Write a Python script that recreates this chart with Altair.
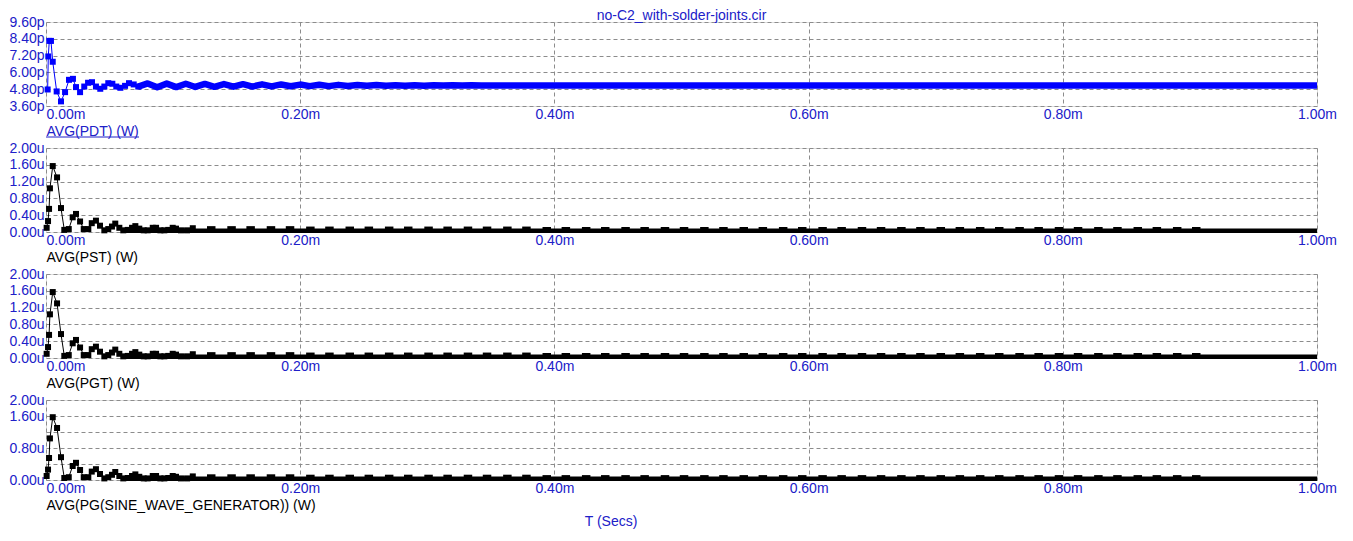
import altair as alt
import pandas as pd

TEXT_BLUE = "#2020c8"
SERIES_BLUE = "#0000ff"
BLACK = "#000000"
GRID = "#8c8c8c"
FONT = "Liberation Sans"

# time axis (microseconds), shown as ms
x_ticks = [0, 200, 400, 600, 800, 1000]

# ---- Panel 1: AVG(PDT) (W), values in pW ----
pdt_t = [1.3, 1.8, 2.6, 3.9, 5.3, 8.4, 11.8, 15.0, 18.1, 21.2, 23.6, 26.8, 30.1,
         33.1, 36.2, 39.3, 42.7, 45.9, 49.0, 52.2, 55.3, 58.5, 62.2, 65.3, 69.0, 72.6]
pdt_v = [4.78, 7.14, 8.25, 8.25, 6.76, 4.64, 3.93, 4.59, 5.47, 5.54, 4.95, 4.59, 4.99,
         5.26, 5.30, 4.99, 4.83, 4.99, 5.23, 5.19, 4.99, 4.90, 5.04, 5.23, 5.14, 4.99]
pdt_tail_t = [72.6, 80, 87.5, 95, 102.5, 110, 117.5, 125, 132.5, 140, 147.5, 155, 162.5,
              170, 177.5, 185, 192.5, 200, 207.5, 215, 222.5, 230, 237.5, 245, 252.5,
              260, 267.5, 275, 282.5, 290, 297.5, 305, 312.5, 320, 327.5, 335, 342.5,
              360, 1000]
pdt_tail_v = [4.99, 5.21, 4.94, 5.20, 4.95, 5.19, 4.96, 5.18, 4.97, 5.17, 4.98, 5.16, 4.99,
              5.15, 5.00, 5.14, 5.01, 5.13, 5.02, 5.12, 5.02, 5.11, 5.03, 5.10, 5.04,
              5.10, 5.04, 5.09, 5.05, 5.09, 5.05, 5.08, 5.06, 5.08, 5.06, 5.08, 5.07,
              5.07, 5.07]
pdt_ticks = [3.6, 4.8, 6.0, 7.2, 8.4, 9.6]

# ---- Panels 2-4: AVG(PST), AVG(PGT), AVG(PG(...)) (W), values in uW ----
pst_t = [0.5, 1.6, 2.4, 3.1, 5.3, 8.7, 11.8, 14.4, 17.9, 21.0, 23.6, 26.8, 29.7,
         33.3, 36.0, 39.3, 42.5, 45.9, 49.0, 51.9, 54.5, 57.7, 60.8, 64.3, 67.7,
         70.3, 73.4, 76.9, 80.0, 84.0, 86.6, 90.0, 93.1, 96.2, 99.7, 102.3, 106.2,
         111.0, 115.5]
pst_v = [0.10, 0.26, 0.55, 1.04, 1.57, 1.30, 0.57, 0.05, 0.07, 0.35, 0.43, 0.25, 0.07,
         0.07, 0.21, 0.27, 0.15, 0.04, 0.07, 0.13, 0.20, 0.10, 0.04, 0.05, 0.10,
         0.14, 0.08, 0.04, 0.04, 0.10, 0.10, 0.04, 0.04, 0.05, 0.10, 0.08, 0.04,
         0.04, 0.09]
pst_tail_t = [60, 1000]
pst_tail_v = [0.03, 0.03]
pst_peak_t = [130, 146, 161, 177, 192, 208, 223, 239, 254, 270, 285, 301, 316, 332,
              347, 363, 378, 394, 409, 425, 440, 456, 471, 487, 502, 518, 533, 549,
              564, 580, 595, 611, 626, 642, 657, 673, 688, 704, 719, 735, 750, 766,
              781, 797, 812, 828, 843, 859, 874, 890, 905]
pst_peak_v = [0.08, 0.08, 0.08, 0.08, 0.08, 0.07, 0.07, 0.07, 0.07, 0.07,
              0.07, 0.07, 0.07, 0.07, 0.07, 0.07, 0.07, 0.06, 0.06, 0.06,
              0.06, 0.06, 0.06, 0.06, 0.06, 0.06, 0.06, 0.06, 0.06, 0.06,
              0.06, 0.06, 0.06, 0.06, 0.06, 0.06, 0.06, 0.06, 0.06, 0.06,
              0.06, 0.06, 0.06, 0.06, 0.06, 0.06, 0.06, 0.06, 0.06, 0.06, 0.06]
pw_ticks = [0.0, 0.4, 0.8, 1.2, 1.6, 2.0]

pgt_t, pgt_v = list(pst_t), list(pst_v)
pg_t, pg_v = list(pst_t), list(pst_v)

title_text = "no-C2_with-solder-joints.cir"
labels = ["AVG(PDT) (W)", "AVG(PST) (W)", "AVG(PGT) (W)",
          "AVG(PG(SINE_WAVE_GENERATOR)) (W)"]
time_label = "T (Secs)"

W = 1271
BUMP = "M-1.7,-1L1.7,-1L1.7,1L-1.7,1Z"


def make_panel(early_t, early_v, tail_t, tail_v, peak_t, peak_v, color, yticks,
               unit, label, height, tail_width, hide=None, title=None,
               underline=False, time_text=False):
    if hide:
        cond = " || ".join(f"datum.value == {h}" for h in hide)
        yexpr = f"({cond}) ? '' : format(datum.value, '.2f') + '{unit}'"
    else:
        yexpr = f"format(datum.value, '.2f') + '{unit}'"
    x_enc = alt.X(
        "t:Q",
        scale=alt.Scale(domain=[0, 1000], nice=False, zero=False),
        axis=alt.Axis(
            values=x_ticks,
            labelExpr="format(datum.value / 1000, '.2f') + 'm'",
            labelAlign={"condition": {"test": "datum.value <= 0", "value": "left"},
                        "value": "center"},
            labelFlush=False,
            labelOverlap=False,
            labelPadding=1,
            labelColor=TEXT_BLUE,
            labelFont=FONT,
            labelFontSize=14,
            ticks=False,
            domain=False,
            grid=True,
            gridColor=GRID,
            gridDash=[4, 3],
            gridWidth=1,
            title=label,
            titleX=0,
            titleY=29,
            titleAlign="left",
            titleBaseline="alphabetic",
            titleAnchor="start",
            titleFont=FONT,
            titleFontSize=14,
            titleFontWeight="normal",
            titleColor=TEXT_BLUE if underline else BLACK,
        ),
    )
    y_enc = alt.Y(
        "v:Q",
        scale=alt.Scale(domain=[yticks[0], yticks[-1]], nice=False, zero=False),
        axis=alt.Axis(
            values=yticks,
            labelExpr=yexpr,
            labelOverlap=False,
            labelPadding=2,
            labelColor=TEXT_BLUE,
            labelFont=FONT,
            labelFontSize=14,
            ticks=False,
            domain=False,
            grid=True,
            gridColor=GRID,
            gridDash=[4, 3],
            gridWidth=1,
            title=None,
        ),
    )
    early = pd.DataFrame({"t": early_t, "v": early_v})
    tail = pd.DataFrame({"t": tail_t, "v": tail_v})
    base = alt.Chart(early).encode(x=x_enc, y=y_enc)
    layers = [
        alt.Chart(tail).mark_line(color=color, strokeWidth=tail_width,
                                  strokeCap="butt", strokeJoin="round").encode(x=x_enc, y=y_enc),
        base.mark_line(color=color, strokeWidth=1),
        base.mark_square(color=color, size=36, opacity=1),
    ]
    if peak_t:
        peaks = pd.DataFrame({"t": peak_t, "v": peak_v})
        layers.append(alt.Chart(peaks).mark_point(shape=BUMP, filled=True, color=color,
                                                  size=25, opacity=1, strokeWidth=0)
                      .encode(x=x_enc, y=y_enc))
    if underline:
        layers.append(alt.Chart(pd.DataFrame({"a": [0]})).mark_rule(color=TEXT_BLUE, strokeWidth=1)
                      .encode(x=alt.value(0), x2=alt.value(93), y=alt.value(height + 31)))
    if title:
        layers.append(alt.Chart(pd.DataFrame({"lab": [title]})).mark_text(
            font=FONT, fontSize=14, color=TEXT_BLUE, align="center", baseline="alphabetic")
            .encode(x=alt.value(W / 2), y=alt.value(-2), text="lab:N"))
    if time_text:
        layers.append(alt.Chart(pd.DataFrame({"lab": [time_label]})).mark_text(
            font=FONT, fontSize=14, color=TEXT_BLUE, align="center", baseline="alphabetic")
            .encode(x=alt.value(565), y=alt.value(height + 46), text="lab:N"))
    return alt.layer(*layers).properties(width=W, height=height)


p1 = make_panel(pdt_t, pdt_v, pdt_tail_t, pdt_tail_v, None, None, SERIES_BLUE, pdt_ticks,
                "p", labels[0], 84, 6.5, title=title_text, underline=True)
p2 = make_panel(pst_t, pst_v, pst_tail_t, pst_tail_v, pst_peak_t, pst_peak_v, BLACK, pw_ticks,
                "u", labels[1], 84, 4.5)
p3 = make_panel(pgt_t, pgt_v, pst_tail_t, pst_tail_v, pst_peak_t, pst_peak_v, BLACK, pw_ticks,
                "u", labels[2], 84, 4.5)
p4 = make_panel(pg_t, pg_v, pst_tail_t, pst_tail_v, pst_peak_t, pst_peak_v, BLACK, pw_ticks,
                "u", labels[3], 80, 4.5, hide=[0.4, 1.2], time_text=True)

chart = alt.vconcat(p1, p2, p3, p4, spacing=42, bounds="flush").configure_view(
    stroke="#808080", strokeWidth=1
).configure(
    padding={"left": 0, "top": 0, "right": 5, "bottom": 0},
    background="white",
    font=FONT,
)

chart.save("out.html", embed_options={"renderer": "svg", "actions": False})
